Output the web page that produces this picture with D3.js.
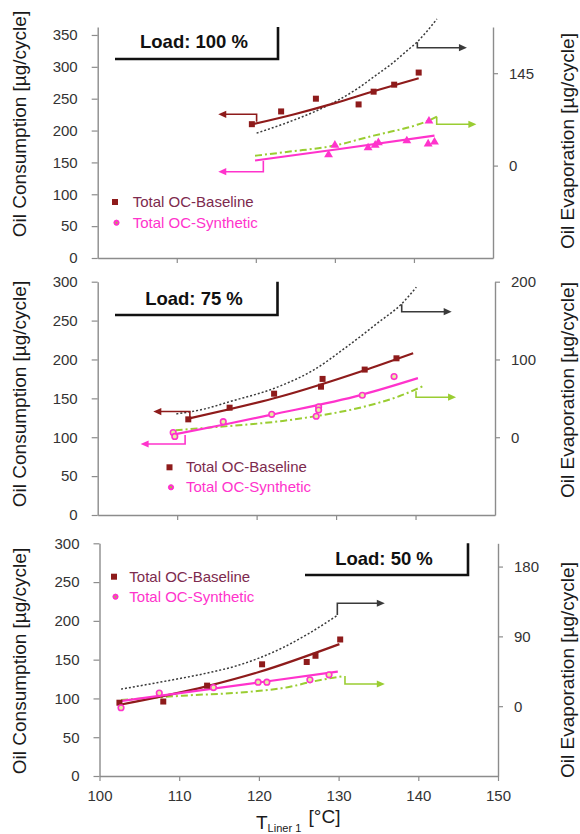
<!DOCTYPE html>
<html>
<head>
<meta charset="utf-8">
<script src="https://cdn.jsdelivr.net/npm/d3@7"></script>
<style>
  html, body { margin: 0; padding: 0; background: #fff; }
  svg { display: block; font-family: "Liberation Sans", Arial, sans-serif; }
</style>
</head>
<body>
<svg id="chart" width="580" height="834"></svg>
<script>
// ---- Shared axis values -------------------------------------------------
const tempTicks = [100, 110, 120, 130, 140, 150];
const seriesNames = ["Total OC-Baseline", "Total OC-Synthetic"];
const loadLabels = ["Load: 100 %", "Load: 75 %", "Load: 50 %"];
const leftTicks300 = [0, 50, 100, 150, 200, 250, 300];
const leftTicks350 = [0, 50, 100, 150, 200, 250, 300, 350];
const rightTicks100 = [0, 145];
const rightTicks75 = [0, 100, 200];
const rightTicks50 = [0, 90, 180];

// ---- Load 100 % : [T_liner °C, µg/cycle] -------------------------------
const load100Baseline = [[119.5, 210], [123.2, 230], [127.6, 250], [133.0, 241], [134.9, 261], [137.5, 272], [140.6, 291]];
const load100Synthetic = [[129.2, 162], [130.0, 177], [134.2, 173], [135.1, 177], [135.5, 181], [139.1, 184], [141.8, 179], [142.6, 182], [141.9, 215]];
const load100BaselineTrend = [[119.3, 209], [125, 226], [130, 243], [135, 262], [140.6, 282]];
const load100SyntheticTrend = [[119.9, 153], [130.6, 171], [142.6, 192]];
const load100EvapBaseline = [[120.1, 51], [124.3, 69], [127.5, 85], [130.6, 104], [133.0, 122], [135.0, 140], [137.0, 158], [139.1, 180], [140.4, 194], [142.9, 230]];
const load100EvapSynthetic = [[119.9, 15.5], [124.3, 22], [129.8, 31], [134.9, 47], [137.0, 53], [140.4, 64], [142.0, 71.5], [142.9, 77]];

// ---- Load 75 % ----------------------------------------------------------
const load75Baseline = [[111.4, 123], [116.6, 138], [122.2, 156], [128.3, 175], [128.1, 165], [133.6, 187], [137.6, 201.5]];
const load75Synthetic = [[109.5, 106], [109.7, 101], [115.8, 120], [121.9, 129.5], [127.8, 139], [127.8, 135], [127.5, 127], [133.3, 154], [137.3, 178]];
const load75BaselineTrend = [[111.4, 124], [122.9, 152], [133.4, 185.5], [139.7, 208]];
const load75SyntheticTrend = [[109.3, 103], [115.8, 116], [121.9, 129], [133.2, 154.5], [140.3, 176]];
const load75EvapBaseline = [[109.9, 30], [113.3, 36], [116.7, 46], [122.5, 64], [127.1, 86], [131.3, 116], [135.5, 149], [138.2, 171], [140.1, 193]];
const load75EvapSynthetic = [[109.8, 9], [115.4, 13.5], [123.3, 21], [127.1, 26.5], [133.4, 39], [138.0, 53], [141.0, 66]];

// ---- Load 50 % ----------------------------------------------------------
const load50Baseline = [[102.5, 94.5], [108.0, 96], [113.5, 116.5], [120.4, 144], [126.0, 147], [127.1, 155], [130.2, 176]];
const load50Synthetic = [[102.7, 88], [107.5, 107], [114.3, 114], [119.9, 121], [121.0, 121], [126.4, 124], [128.8, 130.5]];
const load50BaselineTrend = [[102.4, 91.5], [113.4, 115.5], [120.0, 134], [130.1, 170]];
const load50SyntheticTrend = [[102.6, 96.5], [120.0, 120.5], [129.9, 134.5]];
const load50EvapBaseline = [[102.7, 22], [108.4, 32.5], [113.4, 42.5], [117.5, 53], [120.0, 62], [123.0, 75.5], [126.3, 94], [129.9, 117.5]];
const load50EvapSynthetic = [[102.7, 8], [110.4, 13.5], [118.9, 18.7], [123.9, 25], [126.4, 31], [130.7, 39]];

// ---- Colours --------------------------------------------------------------
const C = {
  base: "#8e1b1b",
  baseText: "#7d2a4e",
  syn: "#ff33cc",
  synFill: "#e4f0a0",
  green: "#9acd32",
  evap: "#3a3a3a",
  axis: "#8c8c8c",
  tick: "#333"
};

const panels = [
  {
    label: loadLabels[0],
    frame: { left: 97.7, right: 493, top: 27, bottom: 258 },
    leftDomain: [0, 362.5], rightDomain: [-145, 217.5],
    leftTicks: leftTicks350, rightTicks: rightTicks100,
    baseline: load100Baseline, synthetic: load100Synthetic,
    baselineTrend: load100BaselineTrend, syntheticTrend: load100SyntheticTrend,
    evapBaseline: load100EvapBaseline, evapSynthetic: load100EvapSynthetic,
    synSymbol: "triangle", xLabels: false,
    legend: { mx: 115, tx: 132.7, y: [202, 222.7] },
    box: { x0: 115, x1: 278, y: 59, cx: 194, base: 48 },
    leftTitleY: 124, rightTitleY: 141,
    arrows: [
      { color: C.base, axis: "L", t: 120.1, v0: 214, v1: 225.5, tEnd: 115.25 },
      { color: C.syn, axis: "L", t: 120.95, v0: 152.7, v1: 135.4, tEnd: 115.25 },
      { color: C.evap, axis: "R", t: 140.43, v0: 193.5, v1: 185, tEnd: 146.7 },
      { color: C.green, axis: "R", t: 142.88, v0: 76.7, v1: 64.8, tEnd: 147.9 }
    ]
  },
  {
    label: loadLabels[1],
    frame: { left: 97.7, right: 495, top: 281.7, bottom: 515 },
    leftDomain: [0, 300], rightDomain: [-100, 200],
    leftTicks: leftTicks300, rightTicks: rightTicks75,
    baseline: load75Baseline, synthetic: load75Synthetic,
    baselineTrend: load75BaselineTrend, syntheticTrend: load75SyntheticTrend,
    evapBaseline: load75EvapBaseline, evapSynthetic: load75EvapSynthetic,
    synSymbol: "circle", xLabels: false,
    legend: { mx: 169.5, tx: 186, y: [467.3, 487.3] },
    box: { x0: 115, x1: 277.5, y: 315, cx: 194, base: 305 },
    leftTitleY: 394, rightTitleY: 390,
    arrows: [
      { color: C.base, axis: "L", t: 111.6, v0: 123.4, v1: 133, tEnd: 107.0 },
      { color: C.syn, axis: "L", t: 111.0, v0: 102.8, v1: 91.3, tEnd: 105.4 },
      { color: C.evap, axis: "R", t: 138.26, v0: 171, v1: 161.4, tEnd: 144.55 },
      { color: C.green, axis: "R", t: 140.06, v0: 59, v1: 51.5, tEnd: 145.1 }
    ]
  },
  {
    label: loadLabels[2],
    frame: { left: 99.5, right: 498, top: 543.3, bottom: 776 },
    leftDomain: [0, 300], rightDomain: [-90, 210],
    leftTicks: leftTicks300, rightTicks: rightTicks50,
    baseline: load50Baseline, synthetic: load50Synthetic,
    baselineTrend: load50BaselineTrend, syntheticTrend: load50SyntheticTrend,
    evapBaseline: load50EvapBaseline, evapSynthetic: load50EvapSynthetic,
    synSymbol: "circle", xLabels: true,
    legend: { mx: 114, tx: 129.3, y: [576.7, 596.7] },
    box: { x0: 305, x1: 468, y: 575, cx: 384, base: 565 },
    leftTitleY: 661, rightTitleY: 670,
    arrows: [
      { color: C.evap, axis: "R", t: 129.84, v0: 117.6, v1: 132.7, tEnd: 135.8 },
      { color: C.green, axis: "R", t: 130.8, v0: 38.9, v1: 28.6, tEnd: 135.8 }
    ]
  }
];

const svg = d3.select("#chart");

function styleAxis(g) {
  g.select(".domain").attr("stroke", C.axis).attr("stroke-width", 1.4);
  g.selectAll(".tick line").attr("stroke", C.axis).attr("stroke-width", 1.2);
  g.selectAll(".tick text").attr("fill", C.tick).attr("font-size", 15)
    .attr("font-family", "'Liberation Sans', Arial, sans-serif");
}

function arrowHead(g, x, y, dir, color) {
  const L = 8, W = 3.6;
  const pts = dir > 0
    ? [[x, y], [x - L, y - W], [x - L, y + W]]
    : [[x, y], [x + L, y - W], [x + L, y + W]];
  g.append("path").attr("d", "M" + pts.join("L") + "Z").attr("fill", color);
}

panels.forEach(p => {
  const f = p.frame;
  const x = d3.scaleLinear().domain([tempTicks[0], tempTicks[tempTicks.length - 1]]).range([f.left, f.right]);
  const yL = d3.scaleLinear().domain(p.leftDomain).range([f.bottom, f.top]);
  const yR = d3.scaleLinear().domain(p.rightDomain).range([f.bottom, f.top]);
  const g = svg.append("g");

  // axes
  const ax = g.append("g").attr("transform", `translate(0,${f.bottom})`)
    .call(d3.axisBottom(x)
      .tickValues(p.xLabels ? tempTicks : tempTicks.slice(1, -1))
      .tickSize(5).tickSizeOuter(0).tickPadding(9)
      .tickFormat(p.xLabels ? d3.format("d") : () => ""));
  styleAxis(ax);

  const al = g.append("g").attr("transform", `translate(${f.left},0)`)
    .call(d3.axisLeft(yL).tickValues(p.leftTicks).tickSize(6).tickSizeOuter(0).tickPadding(14));
  styleAxis(al);

  const ar = g.append("g").attr("transform", `translate(${f.right},0)`)
    .call(d3.axisRight(yR).tickValues(p.rightTicks).tickSize(5).tickSizeOuter(0).tickPadding(11));
  styleAxis(ar);

  // axis titles
  g.append("text").attr("transform", `translate(26,${p.leftTitleY}) rotate(-90)`)
    .attr("text-anchor", "middle").attr("font-size", 19).attr("fill", "#1a1a1a")
    .text("Oil Consumption [µg/cycle]");
  g.append("text").attr("transform", `translate(573.5,${p.rightTitleY}) rotate(-90)`)
    .attr("text-anchor", "middle").attr("font-size", 19).attr("fill", "#1a1a1a")
    .text("Oil Evaporation [µg/cycle]");

  // load label box
  g.append("path")
    .attr("d", `M${p.box.x0},${p.box.y}H${p.box.x1}V${f.top}`)
    .attr("fill", "none").attr("stroke", "#111").attr("stroke-width", 2.6);
  g.append("text").attr("x", p.box.cx).attr("y", p.box.base)
    .attr("text-anchor", "middle").attr("font-weight", "bold").attr("font-size", 18.5)
    .attr("fill", "#111").text(p.label);

  const lineL = d3.line().x(d => x(d[0])).y(d => yL(d[1])).curve(d3.curveMonotoneX);
  const lineR = d3.line().x(d => x(d[0])).y(d => yR(d[1])).curve(d3.curveMonotoneX);

  // evaporation curves (right axis)
  g.append("path").datum(p.evapBaseline).attr("d", lineR)
    .attr("fill", "none").attr("stroke", C.evap).attr("stroke-width", 1.5)
    .attr("stroke-dasharray", "2,2");
  g.append("path").datum(p.evapSynthetic).attr("d", lineR)
    .attr("fill", "none").attr("stroke", C.green).attr("stroke-width", 2)
    .attr("stroke-dasharray", "7,3,2,3");

  // consumption trends (left axis)
  g.append("path").datum(p.baselineTrend).attr("d", lineL)
    .attr("fill", "none").attr("stroke", C.base).attr("stroke-width", 2.2);
  g.append("path").datum(p.syntheticTrend).attr("d", lineL)
    .attr("fill", "none").attr("stroke", C.syn).attr("stroke-width", 2.2);

  // measured points
  g.selectAll(null).data(p.baseline).join("rect")
    .attr("x", d => x(d[0]) - 3).attr("y", d => yL(d[1]) - 3)
    .attr("width", 6).attr("height", 6).attr("fill", C.base);

  if (p.synSymbol === "triangle") {
    const tri = d3.symbol().type(d3.symbolTriangle).size(34);
    g.selectAll(null).data(p.synthetic).join("path")
      .attr("transform", d => `translate(${x(d[0])},${yL(d[1])})`)
      .attr("d", tri).attr("fill", C.syn);
  } else {
    g.selectAll(null).data(p.synthetic).join("circle")
      .attr("cx", d => x(d[0])).attr("cy", d => yL(d[1])).attr("r", 2.8)
      .attr("fill", C.synFill).attr("stroke", C.syn).attr("stroke-width", 1.6);
  }

  // arrows pointing to the axis each curve belongs to
  p.arrows.forEach(a => {
    const y = a.axis === "L" ? yL : yR;
    const xs = x(a.t), y0 = y(a.v0), y1 = y(a.v1), xe = x(a.tEnd);
    const dir = xe > xs ? 1 : -1;
    g.append("path").attr("d", `M${xs},${y0}V${y1}H${xe - dir * 6}`)
      .attr("fill", "none").attr("stroke", a.color).attr("stroke-width", 1.6);
    arrowHead(g, xe, y1, dir, a.color);
  });

  // legend
  const lg = g.append("g");
  lg.append("rect").attr("x", p.legend.mx - 3).attr("y", p.legend.y[0] - 3)
    .attr("width", 6).attr("height", 6).attr("fill", C.base);
  lg.append("circle").attr("cx", p.legend.mx + 1.5).attr("cy", p.legend.y[1]).attr("r", 2.6)
    .attr("fill", C.syn).attr("stroke", C.syn).attr("stroke-width", 1);
  lg.append("circle").attr("cx", p.legend.mx + 1.5).attr("cy", p.legend.y[1]).attr("r", 1)
    .attr("fill", C.green);
  lg.append("text").attr("x", p.legend.tx).attr("y", p.legend.y[0] + 5)
    .attr("font-size", 15).attr("fill", C.baseText).text(seriesNames[0]);
  lg.append("text").attr("x", p.legend.tx).attr("y", p.legend.y[1] + 5)
    .attr("font-size", 15).attr("fill", C.syn).text(seriesNames[1]);
});

// x axis title with subscript
const xt = svg.append("text").attr("x", 256).attr("y", 829)
  .attr("font-size", 19).attr("fill", "#1a1a1a");
xt.append("tspan").text("T");
xt.append("tspan").attr("font-size", 11).attr("dy", 3).text("Liner 1");
xt.append("tspan").attr("dy", -9).attr("dx", 2).text(" [°C]");
</script>
</body>
</html>
